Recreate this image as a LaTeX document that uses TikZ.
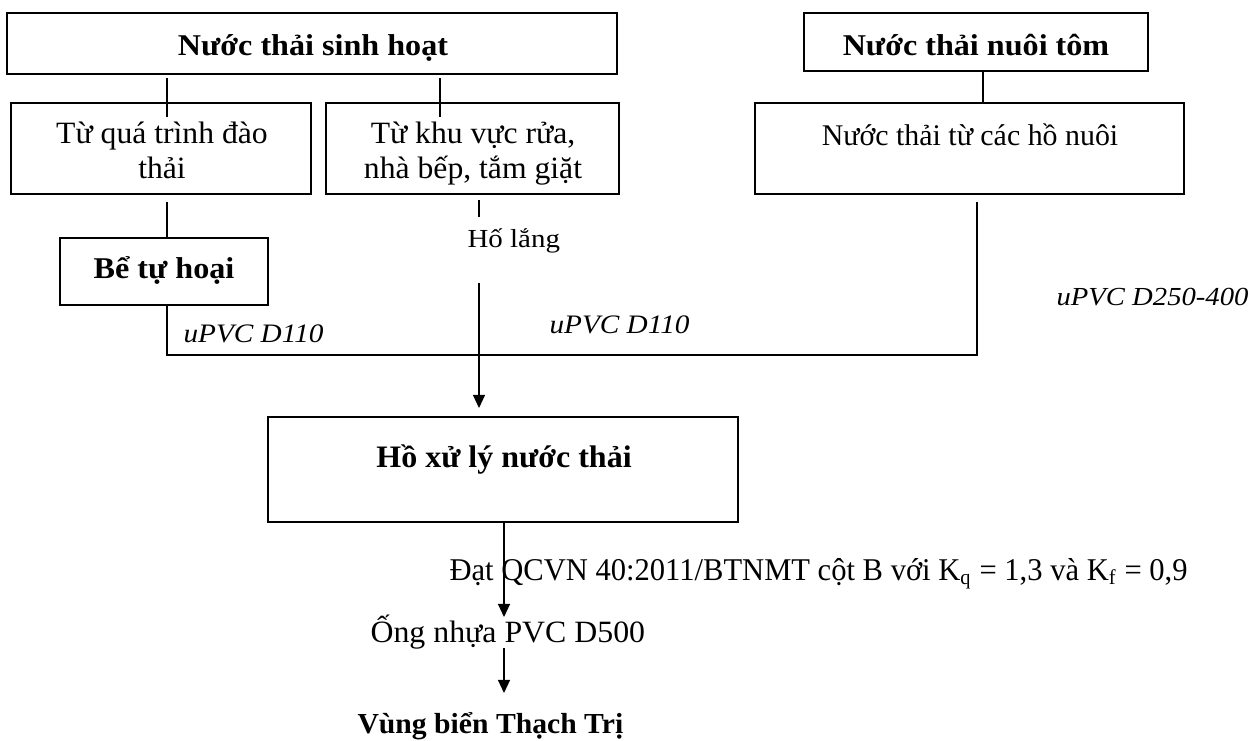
\documentclass[tikz,border=0pt]{standalone}
\usepackage{graphicx}
\usepackage{fontspec}
\setmainfont{Liberation Serif}
\usetikzlibrary{arrows.meta,fit}
\begin{document}
\begin{tikzpicture}[x=0.36pt, y=-0.36pt,
  box/.style={draw, line width=0.7pt, inner sep=0pt, rectangle},
  conn/.style={line width=0.5pt},
  arr/.style={line width=0.5pt, -{Triangle[length=4.7pt, width=4.3pt]}},
  lbl/.style={inner sep=0pt, font=\fontsize{12}{13}\selectfont},
  blbl/.style={lbl, font=\fontsize{12}{13}\selectfont\bfseries},
  ilbl/.style={lbl, font=\fontsize{12}{13}\selectfont\itshape}]
\useasboundingbox (0,0) rectangle (1255,740);
% boxes
\node[box, fit={(7,13) (617,74)}] (b1) {};
\node[box, fit={(11,103) (311,194)}] (b2) {};
\node[box, fit={(326,103) (619,194)}] (b3) {};
\node[box, fit={(60,238) (268,305)}] (b4) {};
\node[box, fit={(804,13) (1148,71)}] (b5) {};
\node[box, fit={(755,103) (1184,194)}] (b6) {};
\node[box, line width=0.8pt, fit={(268,417) (738,522)}] (b7) {};
% texts
\node[blbl, anchor=base] (t1) at (313,55) {\scalebox{0.964}[0.905]{Nước thải sinh hoạt}};
\node[lbl, anchor=base] (t2a) at (162,143) {\scalebox{0.95}[0.93]{Từ quá trình đào}};
\node[lbl, anchor=base] (t2b) at (162,178) {\scalebox{0.95}[0.93]{thải}};
\node[lbl, anchor=base] (t3a) at (473,143) {\scalebox{0.95}[0.93]{Từ khu vực rửa,}};
\node[lbl, anchor=base] (t3b) at (473,178) {\scalebox{0.95}[0.93]{nhà bếp, tắm giặt}};
\node[blbl, anchor=base] (t4) at (164,278) {\scalebox{0.965}[0.905]{Bể tự hoại}};
\node[blbl, anchor=base] (t5) at (976,55) {\scalebox{0.964}[0.905]{Nước thải nuôi tôm}};
\node[lbl, anchor=base] (t6) at (970,145) {\scalebox{0.897}[0.9]{Nước thải từ các hồ nuôi}};
\node[blbl, anchor=base] (t7) at (504,467) {\scalebox{0.96}[0.937]{Hồ xử lý nước thải}};
\node[lbl, anchor=base west] (hl) at (467,247) {\scalebox{0.868}[0.78]{Hố lắng}};
\node[ilbl, anchor=base west] (u1) at (183,342) {\scalebox{0.877}[0.8]{uPVC D110}};
\node[ilbl, anchor=base west] (u2) at (549,333) {\scalebox{0.877}[0.8]{uPVC D110}};
\node[ilbl, anchor=base west] (u3) at (1056,305) {\scalebox{0.86}[0.78]{uPVC D250-400}};
\node[lbl, anchor=base west] (dat) at (449,580) {\scalebox{0.917}[0.95]{Đạt QCVN 40:2011/BTNMT cột B với K\textsubscript{q} = 1,3 và K\textsubscript{f} = 0,9}};
\node[lbl, anchor=base west] (ong) at (370,642) {\scalebox{0.955}[0.93]{Ống nhựa PVC D500}};
\node[blbl, anchor=base west] (vung) at (357,733) {\scalebox{0.89}[0.87]{Vùng biển Thạch Trị}};
% coordinates
\coordinate (a1) at (167,78);  \coordinate (a2) at (167,117);
\coordinate (c1) at (440,78);  \coordinate (c2) at (440,117);
\coordinate (d1) at (167,202);
\coordinate (e1) at (479,200); \coordinate (e2) at (479,217);
\coordinate (f1) at (479,283); \coordinate (f2) at (479,408);
\coordinate (g1) at (977,202); \coordinate (g2) at (977,355);
\coordinate (h1) at (167,355);
\coordinate (n1) at (983,0);
\coordinate (k1) at (504,617);
\coordinate (m1) at (504,648); \coordinate (m2) at (504,693);
% connectors
\draw[conn] (a1) -- (a2);
\draw[conn] (c1) -- (c2);
\draw[conn] (d1) -- (b4.north -| d1);
\draw[conn] (b4.south -| h1) -- (h1) -- (g2) -- (g1);
\draw[conn] (e1) -- (e2);
\draw[arr] (f1) -- (f2);
\draw[conn] (b5.south -| n1) -- (b6.north -| n1);
\draw[arr] (b7.south -| k1) -- (k1);
\draw[arr] (m1) -- (m2);
\end{tikzpicture}
\end{document}
